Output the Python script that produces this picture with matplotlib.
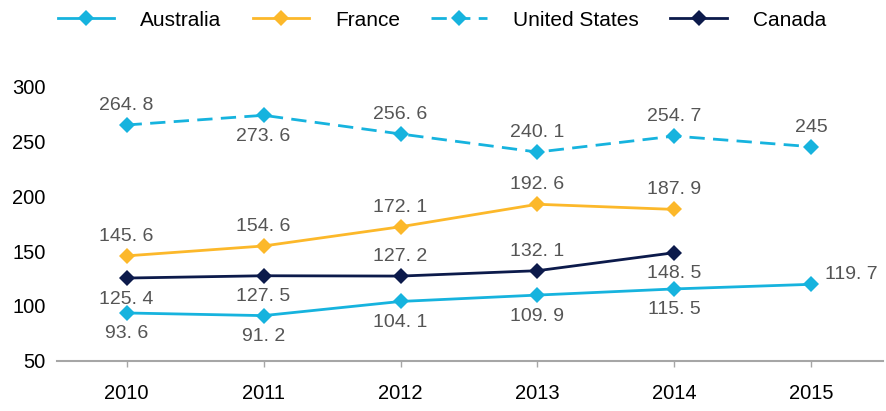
import matplotlib

matplotlib.use("Agg")
import matplotlib.pyplot as plt
from matplotlib.lines import Line2D

plt.rcParams["font.family"] = ["Liberation Sans", "DejaVu Sans"]

years = ["2010", "2011", "2012", "2013", "2014", "2015"]
australia = [93.6, 91.2, 104.1, 109.9, 115.5, 119.7]
france = [145.6, 154.6, 172.1, 192.6, 187.9]
united_states = [264.8, 273.6, 256.6, 240.1, 254.7, 245]
canada = [125.4, 127.5, 127.2, 132.1, 148.5]

# label placement per point: "a" above, "b" below, "r" right
aus_pos = ["b", "b", "b", "b", "b", "r"]
fra_pos = ["a", "a", "a", "a", "a"]
us_pos = ["a", "b", "a", "a", "a", "a"]
can_pos = ["b", "b", "a", "a", "b"]

c_light = "#16B3DE"
c_amber = "#FCB82A"
c_navy = "#0C1A4B"
c_label = "#555555"

fig = plt.figure(figsize=(8.87, 4.11), dpi=100)
ax = fig.add_axes([0.064, 0.122, 0.931, 0.668])

series = [
    ("Australia", australia, c_light, "-", aus_pos),
    ("France", france, c_amber, "-", fra_pos),
    ("United States", united_states, c_light, (0, (5.5, 3)), us_pos),
    ("Canada", canada, c_navy, "-", can_pos),
]


def spaced(v):
    # the source puts a gap after the decimal point
    return f"{v:g}".replace(".", ". ")


handles = []
for name, vals, color, ls, pos in series:
    xs = list(range(len(vals)))
    ax.plot(xs, vals, color=color, linestyle=ls, linewidth=2.0,
            marker="D", markersize=8.5, markeredgewidth=0, zorder=3)
    handles.append(Line2D([], [], color=color, linestyle=ls, linewidth=2.0,
                          marker="D", markersize=8.5, markeredgewidth=0))
    for x, v, p in zip(xs, vals, pos):
        if p == "a":
            off, ha, va = (0, 8), "center", "bottom"
        elif p == "b":
            off, ha, va = (0, -9), "center", "top"
        else:
            off, ha, va = (10, 1), "left", "bottom"
        ax.annotate(spaced(v), (x, v), xytext=off, textcoords="offset points",
                    ha=ha, va=va, fontsize=14, color=c_label, zorder=4)

ax.set_xlim(-0.51, 5.52)
ax.set_ylim(50, 300)
ax.set_xticks(range(len(years)))
ax.set_xticklabels(years)
ax.set_yticks([50, 100, 150, 200, 250, 300])

for s in ["left", "right", "top"]:
    ax.spines[s].set_visible(False)
ax.spines["bottom"].set_color("#A6A6A6")
ax.spines["bottom"].set_linewidth(1.5)
ax.tick_params(axis="x", length=4.5, width=1, color="#A6A6A6", labelsize=14.5, pad=12)
ax.tick_params(axis="y", length=0, labelsize=14.5, pad=8)

fig.legend(handles, [s[0] for s in series], loc="upper left",
           bbox_to_anchor=(0.044, 1.02), ncol=4, frameon=False,
           fontsize=15, handlelength=2.7, handletextpad=1.25, columnspacing=1.5)

fig.savefig("out.png", dpi=100)
